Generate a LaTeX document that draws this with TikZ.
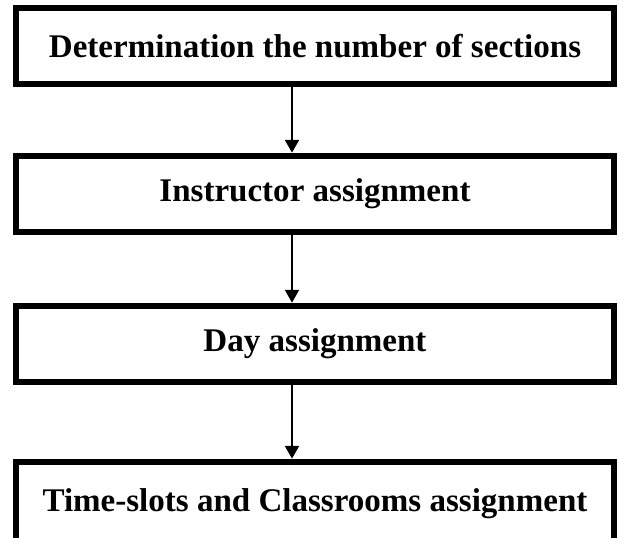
\documentclass[tikz,border=0pt]{standalone}
\usepackage{fontspec}
\setmainfont{Liberation Serif}
\usetikzlibrary{arrows.meta,positioning}

\begin{document}
\begin{tikzpicture}[>={Triangle[length=9pt,width=10pt]},   % arrow style
                    stagebox/.style={draw,line width=4.25pt,
                                     minimum width=14.94cm,minimum height=1.9cm,
                                     inner sep=0pt,
                                     font=\fontsize{23.5}{28}\selectfont\bfseries},
                    link/.style={->,line width=1pt}]

% ---------------------------------------------------------------
% Page frame (bottom box runs past the lower edge)
\useasboundingbox (0,0) rectangle (15.475,-13.425);

% ---------------------------------------------------------------
% Stages
\node[stagebox] (sec) at (7.875,-1.14)  {Determination the number of sections};
\node[stagebox] (ins) at (7.875,-4.84)  {Instructor assignment};
\node[stagebox] (day) at (7.875,-8.59)  {Day assignment};
\node[stagebox,minimum height=2.1cm] (tsc) at (7.875,-12.59)
      {Time-slots and Classrooms assignment};

% Arrows between stages (a little left of centre)
\draw[link] ([xshift=-5.75mm]sec.south) -- ([xshift=-5.75mm]ins.north);
\draw[link] ([xshift=-5.75mm]ins.south) -- ([xshift=-5.75mm]day.north);
\draw[link] ([xshift=-5.75mm]day.south) -- ([xshift=-5.75mm]tsc.north);

\end{tikzpicture}
\end{document}
